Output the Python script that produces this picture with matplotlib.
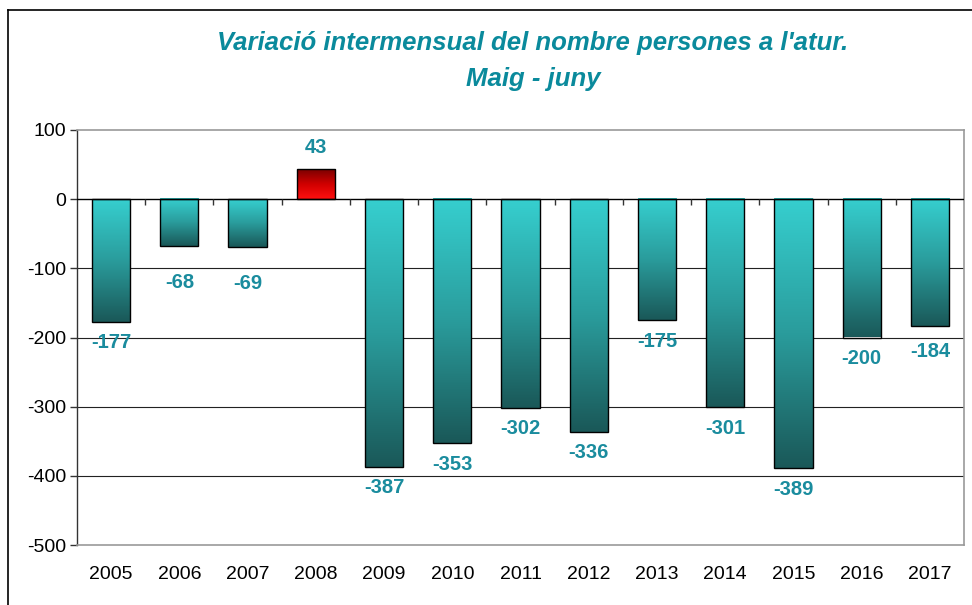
import matplotlib
matplotlib.use("Agg")
import matplotlib.pyplot as plt
import numpy as np
from matplotlib.colors import LinearSegmentedColormap

years = ["2005", "2006", "2007", "2008", "2009", "2010", "2011", "2012",
         "2013", "2014", "2015", "2016", "2017"]
values = [-177, -68, -69, 43, -387, -353, -302, -336, -175, -301, -389, -200, -184]
yticks = [100, 0, -100, -200, -300, -400, -500]
title = "Variació intermensual del nombre persones a l'atur.\nMaig - juny"

# extra label drop (points) as laid out in the original
label_extra = [0, 11, 11, 0, 0, 0, 0, 0, 0, 0, 0, 0, 3]

plt.rcParams['font.family'] = ['Liberation Sans', 'DejaVu Sans']

fig = plt.figure(figsize=(9.72, 6.05), dpi=100)
ax = fig.add_axes([77/972, 60/605, (964-77)/972, (545-130)/605])

x = np.arange(len(years))
width = 0.56

neg_cmap = LinearSegmentedColormap.from_list("neg", ["#36CFCF", "#2A9C9C", "#1A5858"])
pos_cmap = LinearSegmentedColormap.from_list("pos", ["#7A0000", "#D00000", "#FF1010"])
grad = np.linspace(0, 1, 256).reshape(-1, 1)

bars = ax.bar(x, values, width=width, facecolor="none", edgecolor="black",
              linewidth=1.0, zorder=4)
for b, v in zip(bars, values):
    x0 = b.get_x()
    x1 = x0 + b.get_width()
    y0, y1 = min(0, v), max(0, v)
    cmap = neg_cmap if v < 0 else pos_cmap
    ax.imshow(grad, extent=[x0, x1, y0, y1], origin="upper", cmap=cmap,
              aspect="auto", zorder=3, interpolation="bicubic")
ax.set_xlim(-0.5, len(years) - 0.5)
ax.set_ylim(-500, 100)

for yv in yticks:
    if -500 < yv < 100 and yv != 0:
        ax.axhline(yv, color="#222222", lw=0.8, zorder=1)
ax.axhline(0, color="black", lw=1.0, zorder=5)
ax.vlines(np.arange(len(years) - 1) + 0.5, -9, 0, color="#333333", lw=1.0, zorder=5)

label_color = "#1A8C9E"
for xi, v, ex in zip(x, values, label_extra):
    if v < 0:
        ax.annotate(f"{v}", (xi, v), xytext=(0, -15 - ex), textcoords="offset points",
                    ha="center", va="center", fontsize=14.5, fontweight="bold",
                    color=label_color, zorder=6)
    else:
        ax.annotate(f"{v}", (xi, v), xytext=(0, 16), textcoords="offset points",
                    ha="center", va="center", fontsize=14.5, fontweight="bold",
                    color=label_color, zorder=6)

ax.set_yticks(yticks)
ax.set_yticklabels([str(t) for t in yticks], fontsize=14)
ax.set_xticks(x)
ax.set_xticklabels(years, fontsize=14)
ax.tick_params(axis="x", length=0, pad=15)
ax.tick_params(axis="y", length=5, width=1, color="#333333", pad=3)

ax.spines["left"].set_color("#333333")
ax.spines["left"].set_linewidth(1.0)
for s in ["top", "right", "bottom"]:
    ax.spines[s].set_color("#999999")
    ax.spines[s].set_linewidth(1.2)

fig.text(533/972, 1 - 61/605, title, ha="center", va="center", fontsize=18.5,
         fontstyle="italic", fontweight="bold", color="#0A8A9C", linespacing=1.6)

fig.add_artist(plt.Line2D([8/972, 1.0], [1 - 10/605, 1 - 10/605], color="black", lw=1.2))
fig.add_artist(plt.Line2D([8/972, 8/972], [0, 1 - 10/605], color="black", lw=1.2))

fig.savefig("out.png", dpi=100)
